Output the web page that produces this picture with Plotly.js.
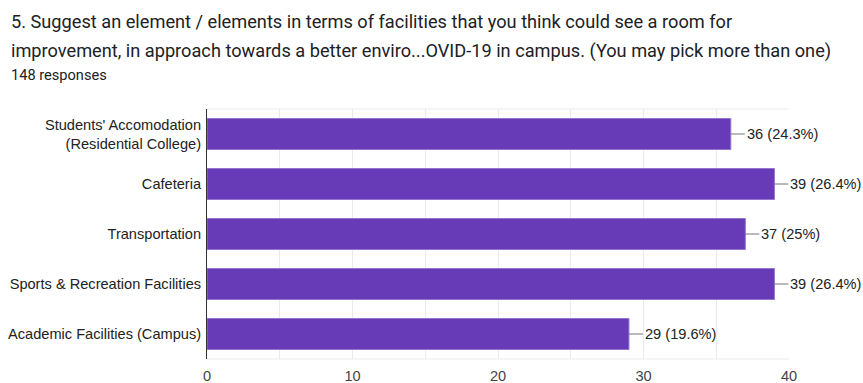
<!DOCTYPE html>
<html><head><meta charset="utf-8">
<script src="https://cdn.plot.ly/plotly-3.0.1.min.js"></script>
<style>html,body{margin:0;padding:0;background:#fff;}#t{font-family:Roboto,Arial,sans-serif;color:#202124;position:absolute;left:11px;top:8px;}
#t .q{font-size:18.2px;line-height:28.5px;}
#t .r{font-size:14.6px;color:#202124;margin-top:1px}
#chart{position:absolute;left:0;top:0;width:863px;height:383px}</style>
</head><body>
<div id="chart"></div>
<div id="t"><div class="q">5. Suggest an element / elements in terms of facilities that you think could see a room for<br>improvement, in approach towards a better enviro...OVID-19 in campus. (You may pick more than one)</div><div class="r">148 responses</div></div>
<script>
const categories = ["Students' Accomodation<br>(Residential College)", "Cafeteria", "Transportation", "Sports & Recreation Facilities", "Academic Facilities (Campus)"];
const counts = [36, 39, 37, 39, 29];
const pctLabels = ["36 (24.3%)", "39 (26.4%)", "37 (25%)", "39 (26.4%)", "29 (19.6%)"];
const xTicks = [0, 10, 20, 30, 40];

const annotations = counts.map((v, i) => ({
  x: v, y: categories[i], xref: 'x', yref: 'y',
  text: pctLabels[i], showarrow: true, arrowhead: 0, arrowwidth: 1, arrowcolor: '#757575',
  ax: 14, ay: 0, xanchor: 'left', yanchor: 'middle', standoff: 0,
  font: {family: 'Liberation Sans, Arial, sans-serif', size: 14.6, color: '#222'}
}));

Plotly.newPlot('chart', [{
  type: 'bar', orientation: 'h', x: counts, y: categories,
  marker: {color: '#673ab7', line: {color: '#9575cd', width: 1}},
  hoverinfo: 'none'
}], {
  width: 863, height: 383,
  margin: {l: 207, r: 74, t: 109, b: 24},
  paper_bgcolor: '#fff', plot_bgcolor: '#fff',
  bargap: 0.38,
  showlegend: false,
  xaxis: {range: [0, 40], tickvals: [0,5,10,15,20,25,30,35,40], ticktext: ['0','','10','','20','','30','','40'],
    showgrid: true, gridcolor: '#ebebeb', gridwidth: 1, zeroline: false, showline: false,
    ticks: '', ticklabelstandoff: 6, tickfont: {family: 'Liberation Sans, Arial, sans-serif', size: 14.6, color: '#444'}, fixedrange: true},
  yaxis: {autorange: 'reversed', showgrid: false, zeroline: false, showline: true, linecolor: '#333', linewidth: 1,
    ticks: '', ticklabelstandoff: 2,
    tickfont: {family: 'Liberation Sans, Arial, sans-serif', size: 14.6, color: '#222'}, fixedrange: true},
  shapes: [{type: 'line', xref: 'paper', yref: 'paper', x0: 0, x1: 1, y0: 1, y1: 1, line: {color: '#ebebeb', width: 1}},
           {type: 'line', xref: 'paper', yref: 'paper', x0: 0, x1: 1, y0: 0, y1: 0, line: {color: '#ebebeb', width: 1}}],
  annotations: annotations
}, {displayModeBar: false, staticPlot: true});
</script>
</body></html>
